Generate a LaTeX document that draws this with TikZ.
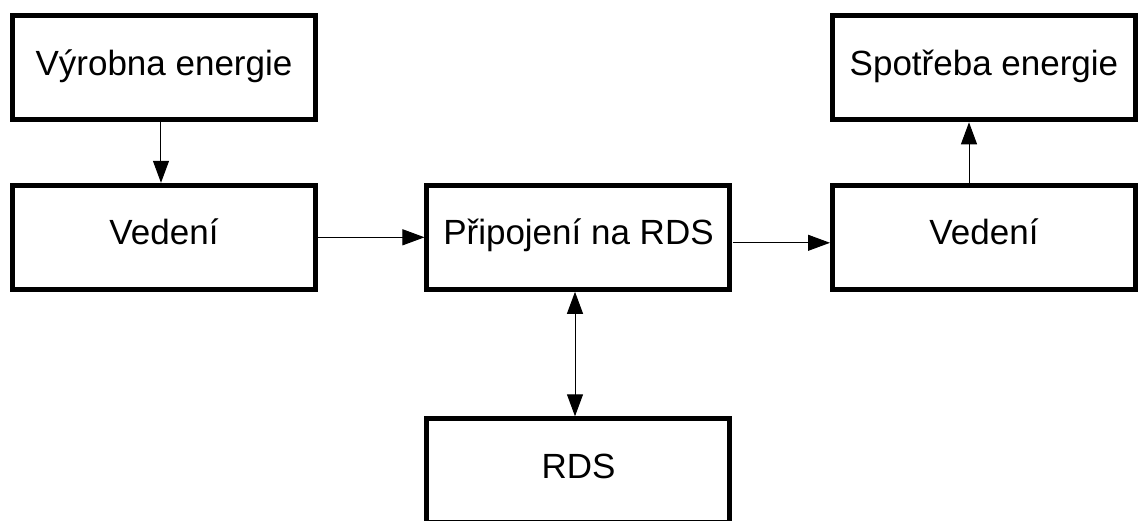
\documentclass[tikz,border=0pt]{standalone}
\usepackage{fontspec}
\setmainfont{Liberation Sans}
\usetikzlibrary{matrix,arrows.meta}

\begin{document}
\begin{tikzpicture}[>={Triangle[length=11pt,width=8pt]}]
  \matrix (m) [overlay, matrix of nodes, row sep=30.25pt, column sep=53.25pt,
    nodes={draw, line width=2.5pt, minimum width=151.5pt, minimum height=52pt,
      font=\fontsize{17.5}{21}\selectfont, text height=0.72em, text depth=0pt}]
  {
    Výrobna energie &      &[-4.5pt] Spotřeba energie \\
    Vedení          & Připojení na RDS &[-4.5pt] Vedení \\[32pt]
                    & RDS  &[-4.5pt]            \\
  };
  \path[->, line width=0.5pt]
  ([xshift=-1.5pt]m-1-1.south) edge ([xshift=-1.5pt]m-2-1.north)
  (m-2-1) edge (m-2-2)
  ([yshift=-2.75pt]m-2-2.east) edge ([yshift=-2.75pt]m-2-3.west)
  ([xshift=-7.5pt]m-2-3.north) edge ([xshift=-7.5pt]m-1-3.south)
  ([xshift=-1.75pt]m-2-2.south) edge[<->] ([xshift=-1.75pt]m-3-2.north)
  ;
  \path (m-1-1.north west) ++(-5pt,6.65pt) coordinate (tl) ++(569.5pt,-260pt) coordinate (br);
  \useasboundingbox (tl) rectangle (br);
\end{tikzpicture}
\end{document}
